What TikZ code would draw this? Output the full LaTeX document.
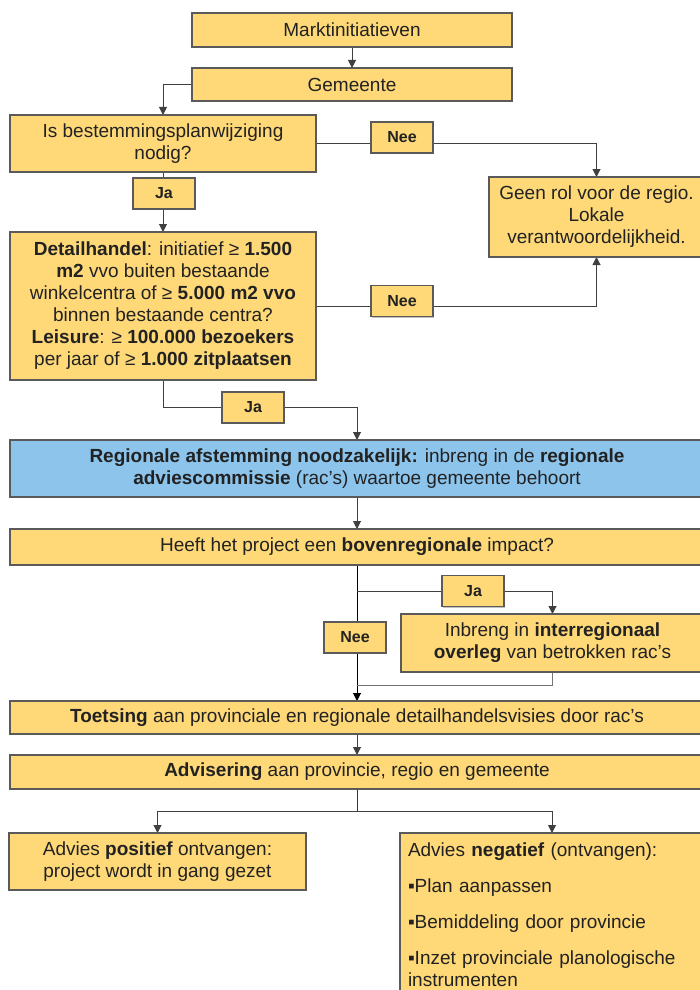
\documentclass[tikz,border=0pt]{standalone}
\usepackage{fontspec}
\setmainfont{Liberation Sans}
\usetikzlibrary{arrows.meta, backgrounds, shadows}

\definecolor{boxgeel}{HTML}{FFD978}
\definecolor{boxblauw}{HTML}{8CC4EC}
\definecolor{rand}{HTML}{5A5A5A}
\definecolor{tekst}{HTML}{222222}

\tikzset{
    blok/.style={draw=rand, line width=0.6pt, fill=boxgeel, text=tekst,
        inner sep=1pt, outer sep=0pt, align=center,
        font=\fontsize{9.5}{11}\selectfont,
        drop shadow={shadow xshift=0.5pt, shadow yshift=-0.7pt, fill=black!30, opacity=0.8}},
    keuze/.style={blok, minimum width=31pt, minimum height=15.5pt,
        font=\fontsize{8}{9}\selectfont\bfseries},
    pijl/.style={draw=black!75, line width=0.5pt, -{Triangle[length=4pt,width=4pt]}},
    lijn/.style={draw=black!55, line width=0.5pt}
}

\begin{document}
\begin{tikzpicture}[x=0.5pt, y=-0.5pt]
        \clip (0,0) rectangle (700,990);

        % Start
        \node[blok, minimum width=160pt, minimum height=17pt] (markt) at (352,30) {Marktinitiatieven};
        \node[blok, minimum width=160pt, minimum height=16.5pt] (gemeente) at (352,84.5) {Gemeente};

        % Eerste vraag
        \node[blok, minimum width=153pt, minimum height=28.5pt] (vraag) at (163,143.5)
            {Is bestemmingsplanwijziging\\nodig?};
        \node[blok, minimum width=107.5pt, minimum height=40pt] (geenrol) at (596.5,217)
            {Geen rol voor de regio.\\Lokale\\verantwoordelijkheid.};

        % Tweede vraag
        \node[blok, minimum width=153pt, minimum height=74pt] (detail) at (163,306)
            {\textbf{Detailhandel}: initiatief ≥ \textbf{1.500}\\
             \textbf{m2} vvo buiten bestaande\\
             winkelcentra of ≥ \textbf{5.000 m2 vvo}\\
             binnen bestaande centra?\\
             \textbf{Leisure}: ≥ \textbf{100.000 bezoekers}\\
             per jaar of ≥ \textbf{1.000 zitplaatsen}};

        % Regionaal
        \node[blok, fill=boxblauw, minimum width=347pt, minimum height=28.5pt] (regio) at (357,468.5)
            {\textbf{Regionale afstemming noodzakelijk:} inbreng in de \textbf{regionale}\\
             \textbf{adviescommissie} (rac’s) waartoe gemeente behoort};
        \node[blok, minimum width=347pt, minimum height=18pt] (impact) at (357,547)
            {Heeft het project een \textbf{bovenregionale} impact?};
        \node[blok, minimum width=151.5pt, minimum height=29pt] (inbreng) at (552.5,643)
            {Inbreng in \textbf{interregionaal}\\\textbf{overleg} van betrokken rac’s};
        \node[blok, minimum width=347pt, minimum height=16.5pt] (toetsing) at (357,717.5)
            {\textbf{Toetsing} aan provinciale en regionale detailhandelsvisies door rac’s};
        \node[blok, minimum width=347pt, minimum height=17pt] (advies) at (357,772)
            {\textbf{Advisering} aan provincie, regio en gemeente};

        % Uitkomsten
        \node[blok, minimum width=148.5pt, minimum height=28.5pt] (positief) at (157.5,861.5)
            {Advies \textbf{positief} ontvangen:\\project wordt in gang gezet};
        \node[blok, align=left, text width=144pt, inner xsep=4pt, minimum height=81.5pt] (negatief) at (552,914.5)
            {Advies \textbf{negatief} (ontvangen):\\[7pt]
             ▪Plan aanpassen\\[7pt]
             ▪Bemiddeling door provincie\\[7pt]
             ▪Inzet provinciale planologische\\
             instrumenten};

        % Ja / Nee labels
        \node[keuze] (nee1) at (402,137.5) {Nee};
        \node[keuze] (ja1) at (164,193.5) {Ja};
        \node[keuze] (nee2) at (402,301) {Nee};
        \node[keuze] (ja2) at (253,407.5) {Ja};
        \node[keuze] (ja3) at (473,591) {Ja};
        \node[keuze] (nee3) at (355,637.5) {Nee};

        \coordinate (samen) at (357,685);
        \coordinate (splits) at (357,811);

        % Verbindingen
        \begin{pgfonlayer}{background}
        \draw[pijl] (markt) -- (gemeente);
        \draw[pijl] (gemeente.west) -| (vraag.north);
        \draw[pijl] (vraag.east) -| (geenrol.north);
        \draw[pijl] (vraag) -- (detail);
        \draw[pijl] (detail.east) -| (geenrol.south);
        \draw[pijl] (detail.south) |- (ja2) -| (regio.north);
        \draw[pijl] (regio) -- (impact);
        \draw[pijl, draw=black] (impact) -- (toetsing);
        \draw[pijl] (impact.south |- ja3) -- (ja3) -| (inbreng.north);
        \draw[lijn] (inbreng.south) |- (samen);
        \draw[pijl] (toetsing) -- (advies);
        \draw[lijn, draw=black!80] (advies.south) -- (splits);
        \draw[pijl] (splits) -| (positief.north);
        \draw[pijl] (splits) -| (negatief.north);
        \end{pgfonlayer}
    \end{tikzpicture}
\end{document}
